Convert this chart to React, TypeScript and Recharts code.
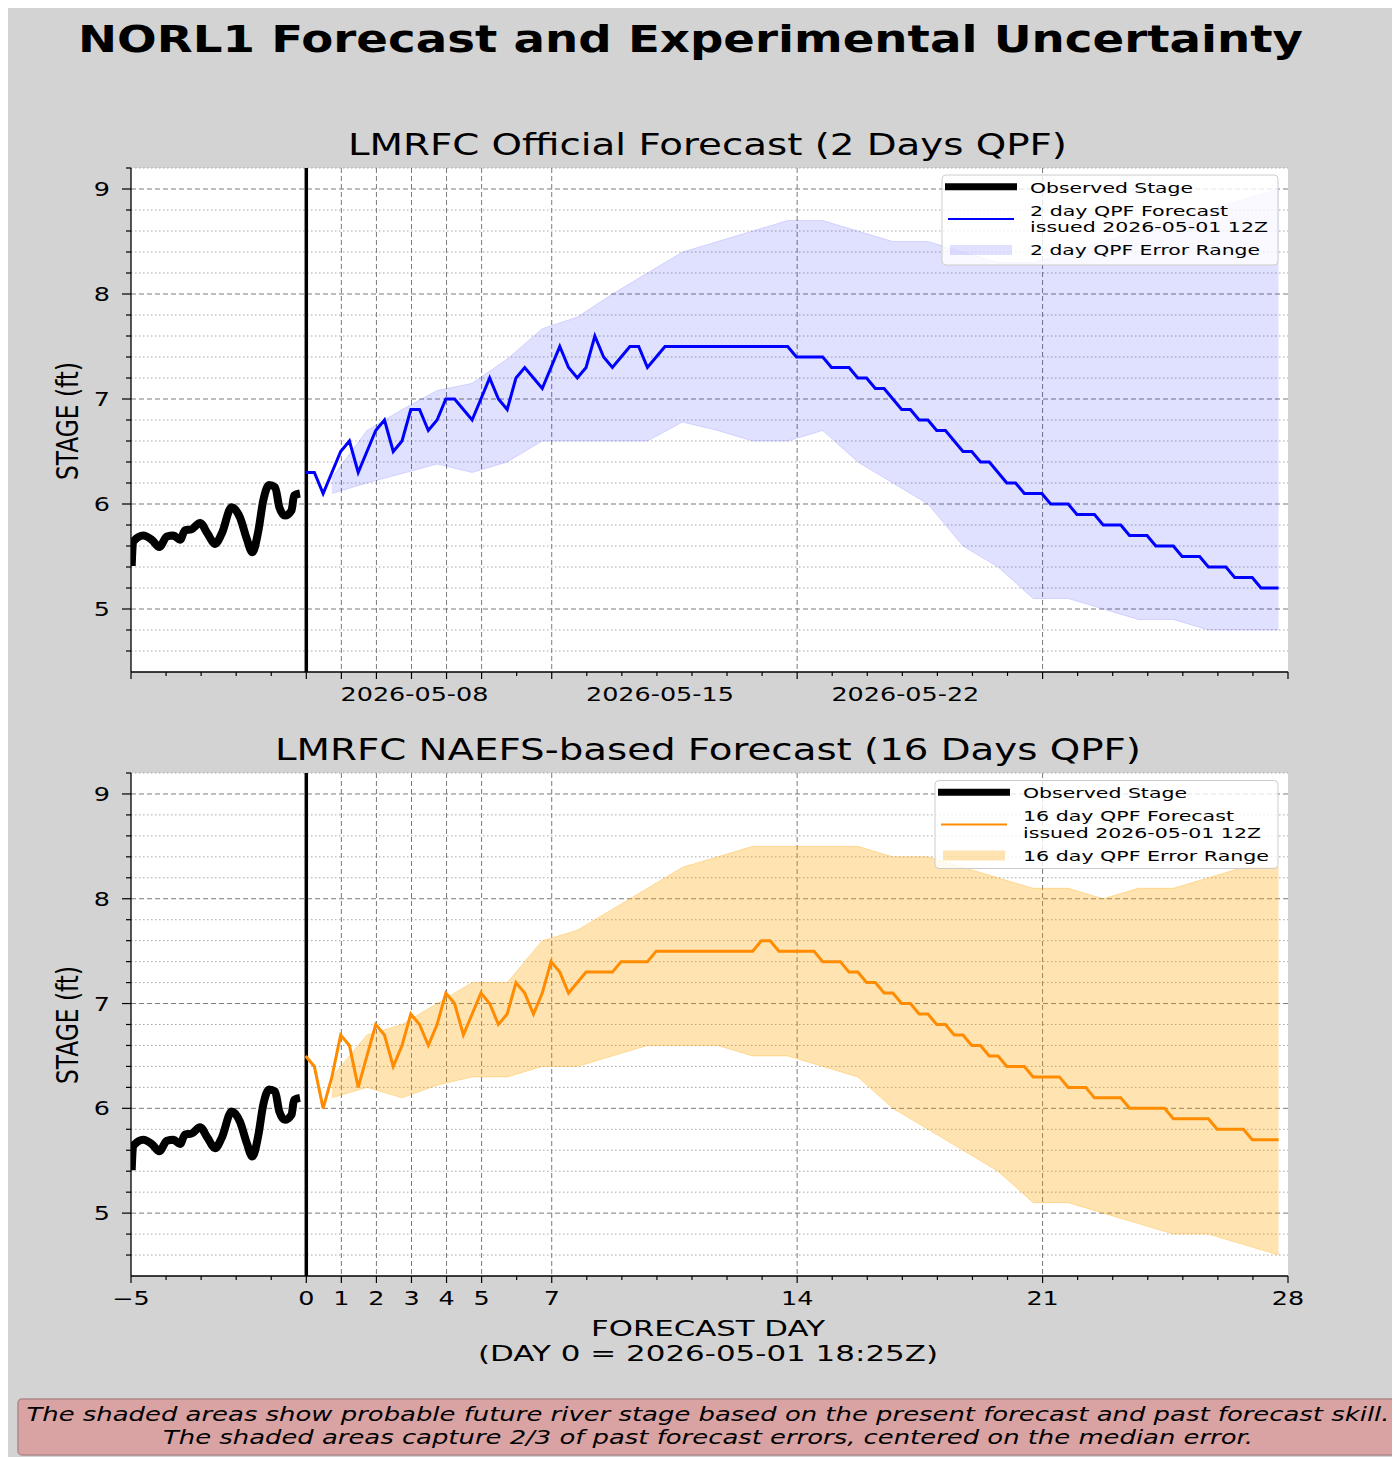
import React from "react";
import {
  ComposedChart,
  Line,
  Area,
  XAxis,
  YAxis,
  CartesianGrid,
  ReferenceLine,
} from "recharts";

// ── data ─────────────────────────────────────────────────────────────────────

const OBS_DAY = [
  -4.98, -4.94, -4.65, -4.41, -4.19, -3.98, -3.79, -3.6, -3.46, -3.27, -3.03, -2.82, -2.6, -2.41,
  -2.13, -1.89, -1.7, -1.54, -1.37, -1.23, -1.06, -0.89, -0.77, -0.61, -0.42, -0.35, -0.18,
];
const OBS_STAGE = [
  5.41, 5.64, 5.7, 5.66, 5.59, 5.69, 5.7, 5.66, 5.75, 5.76, 5.82, 5.72, 5.62, 5.72, 5.97, 5.87,
  5.67, 5.54, 5.74, 6.03, 6.18, 6.16, 5.97, 5.89, 5.94, 6.08, 6.1,
];

// forecasts are 6-hourly, first value at 18Z (day -0.02)
const FCST_START = -0.02;
const FCST_STEP = 0.25;

const FCST_2DAY = [
  6.3, 6.3, 6.1, 6.3, 6.5, 6.6, 6.3, 6.5, 6.7, 6.8,
  6.5, 6.6, 6.9, 6.9, 6.7, 6.8, 7.0, 7.0, 6.9, 6.8,
  7.0, 7.2, 7.0, 6.9, 7.2, 7.3, 7.2, 7.1, 7.3, 7.5,
  7.3, 7.2, 7.3, 7.6, 7.4, 7.3, 7.4, 7.5, 7.5, 7.3,
  7.4, 7.5, 7.5, 7.5, 7.5, 7.5, 7.5, 7.5, 7.5, 7.5,
  7.5, 7.5, 7.5, 7.5, 7.5, 7.5, 7.4, 7.4, 7.4, 7.4,
  7.3, 7.3, 7.3, 7.2, 7.2, 7.1, 7.1, 7.0, 6.9, 6.9,
  6.8, 6.8, 6.7, 6.7, 6.6, 6.5, 6.5, 6.4, 6.4, 6.3,
  6.2, 6.2, 6.1, 6.1, 6.1, 6.0, 6.0, 6.0, 5.9, 5.9,
  5.9, 5.8, 5.8, 5.8, 5.7, 5.7, 5.7, 5.6, 5.6, 5.6,
  5.5, 5.5, 5.5, 5.4, 5.4, 5.4, 5.3, 5.3, 5.3, 5.2,
  5.2, 5.2,
];

const FCST_16DAY = [
  6.5, 6.4, 6.0, 6.3, 6.7, 6.6, 6.2, 6.5, 6.8, 6.7,
  6.4, 6.6, 6.9, 6.8, 6.6, 6.8, 7.1, 7.0, 6.7, 6.9,
  7.1, 7.0, 6.8, 6.9, 7.2, 7.1, 6.9, 7.1, 7.4, 7.3,
  7.1, 7.2, 7.3, 7.3, 7.3, 7.3, 7.4, 7.4, 7.4, 7.4,
  7.5, 7.5, 7.5, 7.5, 7.5, 7.5, 7.5, 7.5, 7.5, 7.5,
  7.5, 7.5, 7.6, 7.6, 7.5, 7.5, 7.5, 7.5, 7.5, 7.4,
  7.4, 7.4, 7.3, 7.3, 7.2, 7.2, 7.1, 7.1, 7.0, 7.0,
  6.9, 6.9, 6.8, 6.8, 6.7, 6.7, 6.6, 6.6, 6.5, 6.5,
  6.4, 6.4, 6.4, 6.3, 6.3, 6.3, 6.3, 6.2, 6.2, 6.2,
  6.1, 6.1, 6.1, 6.1, 6.0, 6.0, 6.0, 6.0, 6.0, 5.9,
  5.9, 5.9, 5.9, 5.9, 5.8, 5.8, 5.8, 5.8, 5.7, 5.7,
  5.7, 5.7,
];

const BAND_DAY = [
  0.73, 1.73, 2.73, 3.73, 4.73, 5.73, 6.73, 7.73, 8.73, 9.73, 10.73, 11.73, 12.73, 13.73,
  14.73, 15.73, 16.73, 17.73, 18.73, 19.73, 20.73, 21.73, 22.73, 23.73, 24.73, 25.73, 26.73, 27.73,
];
const BAND_2DAY_LO = [
  6.1, 6.2, 6.29, 6.38, 6.3, 6.4, 6.6, 6.6, 6.6, 6.6, 6.78, 6.7, 6.6, 6.6,
  6.7, 6.4, 6.2, 6.0, 5.6, 5.4, 5.1, 5.1, 5.0, 4.9, 4.9, 4.8, 4.8, 4.8,
];
const BAND_2DAY_HI = [
  6.25, 6.7, 6.9, 7.08, 7.15, 7.38, 7.67, 7.78, 8.0, 8.2, 8.4, 8.5, 8.6, 8.7,
  8.7, 8.6, 8.5, 8.5, 8.4, 8.3, 8.3, 8.4, 8.5, 8.6, 8.7, 8.8, 8.9, 9.0,
];
const BAND_16DAY_LO = [
  6.1, 6.2, 6.1, 6.22, 6.3, 6.3, 6.4, 6.4, 6.5, 6.6, 6.6, 6.6, 6.5, 6.5,
  6.4, 6.3, 6.0, 5.8, 5.6, 5.4, 5.1, 5.1, 5.0, 4.9, 4.8, 4.8, 4.7, 4.6,
];
const BAND_16DAY_HI = [
  6.3, 6.7, 6.8, 7.0, 7.2, 7.2, 7.6, 7.7, 7.9, 8.1, 8.3, 8.4, 8.5, 8.5,
  8.5, 8.5, 8.4, 8.4, 8.3, 8.2, 8.1, 8.1, 8.0, 8.1, 8.1, 8.2, 8.3, 8.3,
];

const DAY_TICKS = [
  -5, -4, -3, -2, -1, 0, 1, 2, 3, 4, 5, 6, 7, 8, 9, 10, 11, 12, 13, 14, 15, 16, 17, 18, 19, 20,
  21, 22, 23, 24, 25, 26, 27, 28,
];
const MAJOR_DAYS = [-5, 0, 1, 2, 3, 4, 5, 7, 14, 21, 28];
const GRID_DAYS = [1, 2, 3, 4, 5, 7, 14, 21];
const DATE_TICK_DAYS = [3, 10, 17];
const DATE_LABELS = ["2026-05-08", "2026-05-15", "2026-05-22"];

const STAGE_TICKS = [
  4.6, 4.8, 5, 5.2, 5.4, 5.6, 5.8, 6, 6.2, 6.4, 6.6, 6.8, 7, 7.2, 7.4, 7.6, 7.8, 8, 8.2, 8.4,
  8.6, 8.8, 9, 9.2,
];
const STAGE_MAJOR = [5, 6, 7, 8, 9];
const STAGE_MINOR = STAGE_TICKS.filter((v) => !STAGE_MAJOR.includes(v));

// ── helpers ──────────────────────────────────────────────────────────────────

const FONT = "'DejaVu Sans', sans-serif";
const SX = 1.34; // the reference text is stretched horizontally

const obsData = OBS_DAY.map((d, i) => ({ day: d, stage: OBS_STAGE[i] }));
const fcst = (vals: number[]) =>
  vals.map((v, i) => ({ day: FCST_START + i * FCST_STEP, stage: v }));
const band = (lo: number[], hi: number[]) =>
  BAND_DAY.map((d, i) => ({ day: d, range: [lo[i], hi[i]] }));

function fmtDay(v: number) {
  return v < 0 ? `\u2212${-v}` : String(v);
}

// ── ticks ─────────────────────────────────────────────────────────────────────

function DayTick(props: any, dates: boolean) {
  const { x, y, payload } = props;
  const v = payload.value as number;
  const major = MAJOR_DAYS.includes(v);
  let label: string | null = null;
  if (dates) {
    const idx = DATE_TICK_DAYS.indexOf(v);
    if (idx >= 0) label = DATE_LABELS[idx];
  } else if (major) {
    label = fmtDay(v);
  }
  return (
    <g>
      <line x1={x} x2={x} y1={y} y2={y + (major ? 7 : 4)} stroke="#000" strokeWidth={1.2} />
      {label && (
        <text
          transform={`translate(${x + (dates ? 3 : 0)},${y + 29}) scale(${SX},1)`}
          textAnchor="middle"
          fontSize={19}
          fontFamily={FONT}
          fill="#000"
        >
          {label}
        </text>
      )}
    </g>
  );
}

function StageTick(props: any) {
  const { x, y, payload } = props;
  const v = payload.value as number;
  const major = STAGE_MAJOR.includes(v);
  return (
    <g>
      <line x1={x - (major ? 9 : 5)} x2={x} y1={y} y2={y} stroke="#000" strokeWidth={1.2} />
      {major && (
        <text
          transform={`translate(${x - 21},${y + 7}) scale(${SX},1)`}
          textAnchor="end"
          fontSize={19}
          fontFamily={FONT}
          fill="#000"
        >
          {v}
        </text>
      )}
    </g>
  );
}

// ── one panel ─────────────────────────────────────────────────────────────────

function Panel({
  height,
  marginTop,
  xAxisHeight,
  color,
  bandColor,
  bandOpacity,
  forecast,
  lo,
  hi,
  dates,
}: {
  height: number;
  marginTop: number;
  xAxisHeight: number;
  color: string;
  bandColor: string;
  bandOpacity: number;
  forecast: number[];
  lo: number[];
  hi: number[];
  dates: boolean;
}) {
  return (
    <ComposedChart
      width={1392}
      height={height}
      margin={{ top: marginTop, right: 112, bottom: 0, left: 0 }}
    >
      <CartesianGrid
        fill="#ffffff"
        vertical={false}
        horizontalValues={STAGE_MINOR}
        stroke="#a6a6a6"
        strokeDasharray="1.5 2.5"
      />
      <CartesianGrid
        horizontalValues={STAGE_MAJOR}
        verticalValues={GRID_DAYS}
        stroke="#7a7a7a"
        strokeDasharray="5 3"
      />
      <XAxis
        dataKey="day"
        type="number"
        domain={[-5, 28]}
        ticks={DAY_TICKS}
        interval={0}
        allowDataOverflow
        height={xAxisHeight}
        tickSize={0}
        tickMargin={0}
        tickLine={false}
        axisLine={{ stroke: "#000", strokeWidth: 1.3 }}
        tick={(p: any) => DayTick(p, dates)}
      />
      <XAxis
        xAxisId="top"
        orientation="top"
        type="number"
        domain={[-5, 28]}
        height={0}
        tick={false}
        tickLine={false}
        axisLine={{ stroke: "#000", strokeWidth: 1.3 }}
      />
      <YAxis
        type="number"
        domain={[4.4, 9.2]}
        ticks={STAGE_TICKS}
        interval={0}
        allowDataOverflow
        width={123}
        tickSize={0}
        tickMargin={0}
        tickLine={false}
        axisLine={{ stroke: "#000", strokeWidth: 1.3 }}
        tick={StageTick}
      />
      <YAxis
        yAxisId="right"
        orientation="right"
        type="number"
        domain={[0, 1]}
        width={0}
        tick={false}
        tickLine={false}
        axisLine={{ stroke: "#000", strokeWidth: 1.3 }}
      />
      <Area
        data={band(lo, hi)}
        dataKey="range"
        type="linear"
        fill={bandColor}
        fillOpacity={bandOpacity}
        stroke={bandColor}
        strokeOpacity={bandOpacity}
        strokeWidth={1}
        isAnimationActive={false}
      />
      <ReferenceLine x={0} stroke="#000" strokeWidth={3.5} />
      <Line
        data={obsData}
        dataKey="stage"
        type="monotone"
        stroke="#000"
        strokeWidth={8}
        strokeLinejoin="round"
        dot={false}
        isAnimationActive={false}
      />
      <Line
        data={fcst(forecast)}
        dataKey="stage"
        type="linear"
        stroke={color}
        strokeWidth={3}
        dot={false}
        isAnimationActive={false}
      />
    </ComposedChart>
  );
}

// ── legend box ────────────────────────────────────────────────────────────────

function LegendBox({
  x,
  y,
  w,
  h,
  color,
  bandColor,
  bandOpacity,
  label,
  widths,
}: {
  x: number;
  y: number;
  w: number;
  h: number;
  color: string;
  bandColor: string;
  bandOpacity: number;
  label: string;
  widths: number[];
}) {
  const tx = x + 88;
  const t = { fontSize: 14.5, fontFamily: FONT, fill: "#000", lengthAdjust: "spacingAndGlyphs" as const };
  return (
    <g>
      <rect x={x} y={y} width={w} height={h} rx={4} fill="#fff" fillOpacity={0.8} stroke="#cccccc" />
      <line x1={x + 3} x2={x + 75} y1={y + 11.7} y2={y + 11.7} stroke="#000" strokeWidth={7} />
      <text x={tx} y={y + 17.5} textLength={widths[0]} {...t}>Observed Stage</text>
      <line x1={x + 6} x2={x + 72} y1={y + 44} y2={y + 44} stroke={color} strokeWidth={2.2} />
      <text x={tx} y={y + 40.5} textLength={widths[1]} {...t}>{`${label} QPF Forecast`}</text>
      <text x={tx} y={y + 57} textLength={widths[2]} {...t}>issued 2026-05-01 12Z</text>
      <rect x={x + 8} y={y + 70} width={62} height={10} fill={bandColor} fillOpacity={bandOpacity} />
      <text x={tx} y={y + 80} textLength={widths[3]} {...t}>{`${label} QPF Error Range`}</text>
    </g>
  );
}

// ── page ──────────────────────────────────────────────────────────────────────

export default function App() {
  const lt = { fontFamily: FONT, fill: "#000", lengthAdjust: "spacingAndGlyphs" as const };
  return (
    <div style={{ position: "relative", width: 1392, height: 1449, background: "#d3d3d3" }}>
      <div style={{ position: "absolute", left: 0, top: 0 }}>
        <Panel
          height={700}
          marginTop={160}
          xAxisHeight={36}
          color="#0000ff"
          bandColor="#0000ff"
          bandOpacity={0.12}
          forecast={FCST_2DAY}
          lo={BAND_2DAY_LO}
          hi={BAND_2DAY_HI}
          dates
        />
      </div>
      <div style={{ position: "absolute", left: 0, top: 700 }}>
        <Panel
          height={640}
          marginTop={65}
          xAxisHeight={72}
          color="#ff8c00"
          bandColor="#ffa500"
          bandOpacity={0.3}
          forecast={FCST_16DAY}
          lo={BAND_16DAY_LO}
          hi={BAND_16DAY_HI}
          dates={false}
        />
      </div>
      <svg
        width={1392}
        height={1449}
        style={{ position: "absolute", left: 0, top: 0, pointerEvents: "none" }}
      >
        <text x={682.5} y={44} textAnchor="middle" fontSize={38} fontWeight="bold" textLength={1225} {...lt}>
          NORL1 Forecast and Experimental Uncertainty
        </text>
        <text x={699.5} y={147} textAnchor="middle" fontSize={31} textLength={719} {...lt}>
          LMRFC Official Forecast (2 Days QPF)
        </text>
        <text x={700} y={752} textAnchor="middle" fontSize={31} textLength={866} {...lt}>
          LMRFC NAEFS-based Forecast (16 Days QPF)
        </text>
        <text transform={`translate(70,413) scale(${SX},1) rotate(-90)`} textAnchor="middle" fontSize={22} textLength={118} {...lt}>
          STAGE (ft)
        </text>
        <text transform={`translate(70,1017) scale(${SX},1) rotate(-90)`} textAnchor="middle" fontSize={22} textLength={118} {...lt}>
          STAGE (ft)
        </text>
        <text x={700} y={1328} textAnchor="middle" fontSize={22} textLength={234} {...lt}>
          FORECAST DAY
        </text>
        <text x={700} y={1353} textAnchor="middle" fontSize={22} textLength={460} {...lt}>
          (DAY 0 = 2026-05-01 18:25Z)
        </text>

        <LegendBox x={934} y={167} w={336} h={90} color="#0000ff" bandColor="#0000ff" bandOpacity={0.12} label="2 day" widths={[163, 198, 238, 230]} />
        <LegendBox x={927} y={772.5} w={343} h={88} color="#ff8c00" bandColor="#ffa500" bandOpacity={0.3} label="16 day" widths={[164, 211, 238, 246]} />

        <rect x={10} y={1391} width={1379} height={56} rx={4} fill="#d9a3a3" stroke="#b08888" strokeWidth={1.5} />
        <text x={700} y={1413} textAnchor="middle" fontSize={19} fontStyle="italic" textLength={1363} {...lt}>
          The shaded areas show probable future river stage based on the present forecast and past forecast skill.
        </text>
        <text x={700} y={1436} textAnchor="middle" fontSize={19} fontStyle="italic" textLength={1090} {...lt}>
          The shaded areas capture 2/3 of past forecast errors, centered on the median error.
        </text>
      </svg>
    </div>
  );
}
